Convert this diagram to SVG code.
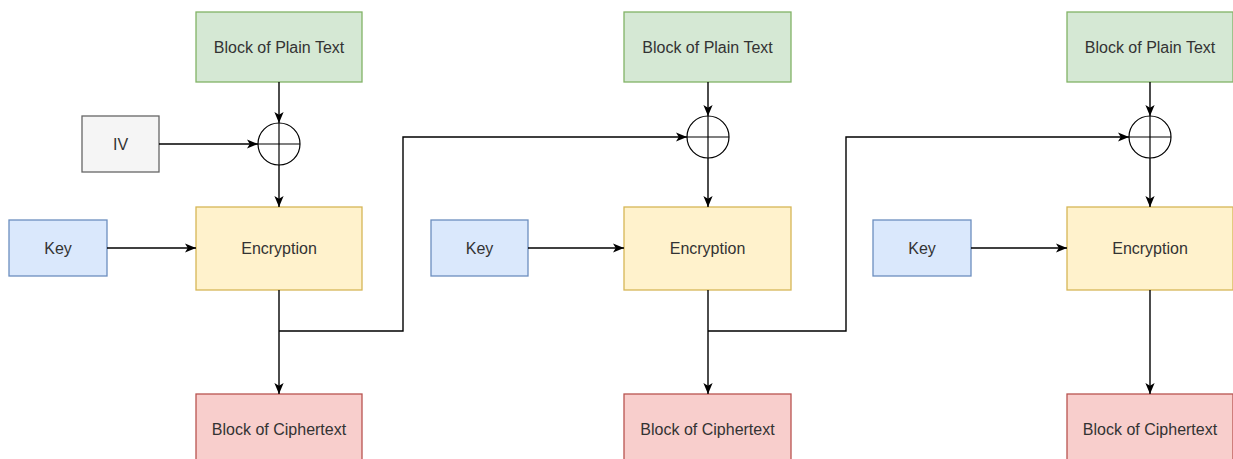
<svg xmlns="http://www.w3.org/2000/svg" width="1233" height="459" viewBox="0 0 1233 459">
<style>
  .lbl{font-family:"Liberation Sans",Arial,sans-serif;font-size:16px;fill:#333333;text-anchor:middle;dominant-baseline:central}
  .plain{fill:#d5e8d4;stroke:#82b366;stroke-width:1.3}
  .enc{fill:#fff2cc;stroke:#d6b656;stroke-width:1.3}
  .key{fill:#dae8fc;stroke:#6c8ebf;stroke-width:1.3}
  .iv{fill:#f5f5f5;stroke:#666666;stroke-width:1.3}
  .ciph{fill:#f8cecc;stroke:#b85450;stroke-width:1.3}
  .xor{fill:none;stroke:#000;stroke-width:1.2}
  .edge{fill:none;stroke:#000;stroke-width:1.4}
</style>
<defs>
  <marker id="arr" markerUnits="userSpaceOnUse" viewBox="0 0 10 10" markerWidth="11" markerHeight="11" refX="10" refY="5" orient="auto">
    <path d="M0,0.8 L10,5 L0,9.2 L2.5,5 Z" fill="#000"/>
  </marker>
</defs>
<rect width="1233" height="459" fill="#ffffff"/>

<g id="plain1"><rect class="plain" x="196" y="12" width="166" height="70"/><text class="lbl" x="279" y="47">Block of Plain Text</text></g>
<g id="plain2"><rect class="plain" x="624" y="12" width="167" height="70"/><text class="lbl" x="707.5" y="47">Block of Plain Text</text></g>
<g id="plain3"><rect class="plain" x="1067" y="12" width="166" height="70"/><text class="lbl" x="1150" y="47">Block of Plain Text</text></g>

<g id="iv"><rect class="iv" x="82" y="116" width="77" height="56"/><text class="lbl" x="120.5" y="144">IV</text></g>

<g id="xor1"><circle class="xor" cx="279" cy="144" r="21"/><line class="xor" x1="258" y1="144" x2="300" y2="144"/><line class="xor" x1="279" y1="123" x2="279" y2="165"/></g>
<g id="xor2"><circle class="xor" cx="708" cy="137" r="21"/><line class="xor" x1="687" y1="137" x2="729" y2="137"/><line class="xor" x1="708" y1="116" x2="708" y2="158"/></g>
<g id="xor3"><circle class="xor" cx="1150" cy="137" r="21"/><line class="xor" x1="1129" y1="137" x2="1171" y2="137"/><line class="xor" x1="1150" y1="116" x2="1150" y2="158"/></g>

<g id="key1"><rect class="key" x="9" y="220" width="98" height="56"/><text class="lbl" x="58" y="248">Key</text></g>
<g id="key2"><rect class="key" x="431" y="220" width="97" height="56"/><text class="lbl" x="479.5" y="248">Key</text></g>
<g id="key3"><rect class="key" x="873" y="220" width="98" height="56"/><text class="lbl" x="922" y="248">Key</text></g>

<g id="enc1"><rect class="enc" x="196" y="207" width="166" height="83"/><text class="lbl" x="279" y="248.5">Encryption</text></g>
<g id="enc2"><rect class="enc" x="624" y="207" width="167" height="83"/><text class="lbl" x="707.5" y="248.5">Encryption</text></g>
<g id="enc3"><rect class="enc" x="1067" y="207" width="166" height="83"/><text class="lbl" x="1150" y="248.5">Encryption</text></g>

<g id="ciph1"><rect class="ciph" x="196" y="394" width="166" height="70"/><text class="lbl" x="279" y="429">Block of Ciphertext</text></g>
<g id="ciph2"><rect class="ciph" x="624" y="394" width="167" height="70"/><text class="lbl" x="707.5" y="429">Block of Ciphertext</text></g>
<g id="ciph3"><rect class="ciph" x="1067" y="394" width="166" height="70"/><text class="lbl" x="1150" y="429">Block of Ciphertext</text></g>

<g id="connectors">
  <line class="edge" x1="279" y1="82" x2="279" y2="123" marker-end="url(#arr)"/>
  <line class="edge" x1="159" y1="144" x2="258" y2="144" marker-end="url(#arr)"/>
  <line class="edge" x1="279" y1="165" x2="279" y2="207" marker-end="url(#arr)"/>
  <line class="edge" x1="107" y1="248" x2="196" y2="248" marker-end="url(#arr)"/>
  <line class="edge" x1="279" y1="290" x2="279" y2="394" marker-end="url(#arr)"/>
  <path class="edge" d="M279,331 H403 V137 H687" marker-end="url(#arr)"/>

  <line class="edge" x1="708" y1="82" x2="708" y2="116" marker-end="url(#arr)"/>
  <line class="edge" x1="708" y1="158" x2="708" y2="207" marker-end="url(#arr)"/>
  <line class="edge" x1="528" y1="248" x2="624" y2="248" marker-end="url(#arr)"/>
  <line class="edge" x1="708" y1="290" x2="708" y2="394" marker-end="url(#arr)"/>
  <path class="edge" d="M708,331 H846 V137 H1129" marker-end="url(#arr)"/>

  <line class="edge" x1="1150" y1="82" x2="1150" y2="116" marker-end="url(#arr)"/>
  <line class="edge" x1="1150" y1="158" x2="1150" y2="207" marker-end="url(#arr)"/>
  <line class="edge" x1="971" y1="248" x2="1067" y2="248" marker-end="url(#arr)"/>
  <line class="edge" x1="1150" y1="290" x2="1150" y2="394" marker-end="url(#arr)"/>
</g>
</svg>
